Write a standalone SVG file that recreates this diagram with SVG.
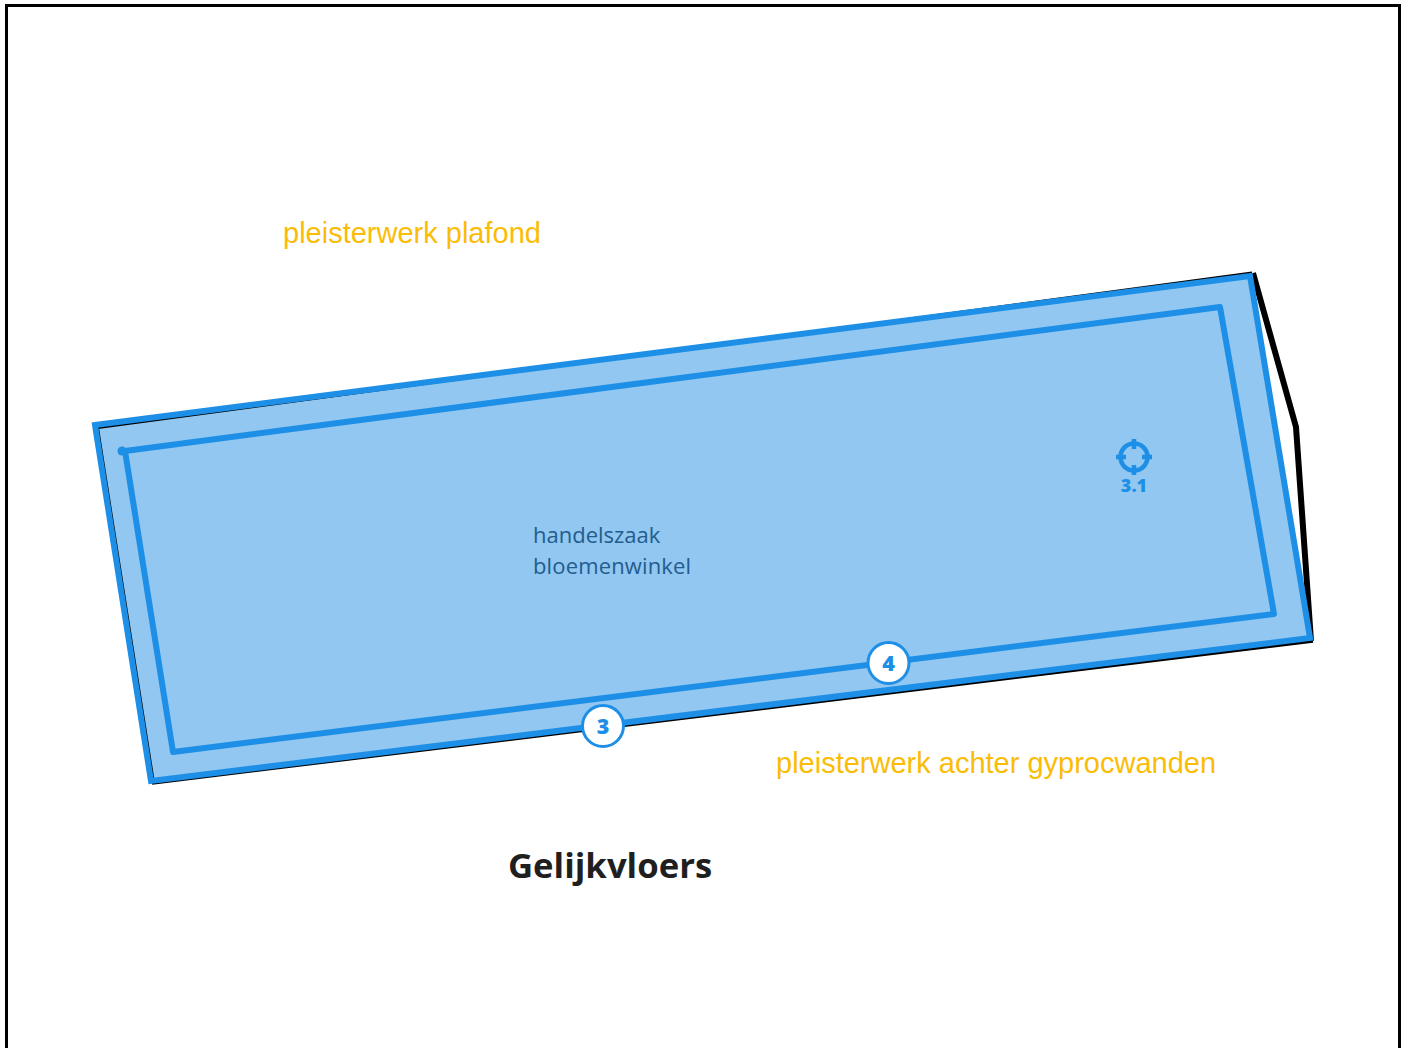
<svg xmlns="http://www.w3.org/2000/svg" width="1405" height="1048" viewBox="0 0 1405 1048">
<style>
.b{fill:none;stroke:#1e8fe6;stroke-linejoin:round;stroke-linecap:round}
.k{fill:none;stroke:#000;stroke-linejoin:miter}
.o{font-family:"Liberation Sans",Arial,sans-serif;font-size:29px;fill:#fbbc05}
.r{font-family:"Open Sans","Noto Sans",sans-serif;font-size:22px;fill:#235c8e}
.n{font-family:"Open Sans","Noto Sans",sans-serif;font-weight:800;fill:#1e8fe6;text-anchor:middle}
.c{fill:#fff;stroke:#1e8fe6;stroke-width:3}
</style>
<rect width="1405" height="1048" fill="#fff"/>
<path id="frame" d="M6.500 1048V5.500H1399.500V1048" fill="none" stroke="#000" stroke-width="3"/>
<g id="room-fill">
<polygon points="95,425 1250,276 1310,638 151,781" fill="#91c7f0"/>
</g>
<g id="outline">
<path class="k" stroke-width="6" d="M1253 273L1296 427L1311 641"/>
<path class="k" stroke-width="2" d="M98 428L1252 272.500M154 783L98 428"/>
<path class="k" stroke-width="3.500" d="M1313 641L700 716L152 783"/>
</g>
<g id="room">
<polygon points="95,425 1250,276 1310,638 151,781" fill="none" stroke="#1e8fe6" stroke-width="6" stroke-linejoin="miter"/>
<polygon class="b" stroke-width="6" points="125,451 1220,307 1274,614 173,752"/>
<circle cx="122" cy="451" r="4.500" fill="#1e8fe6"/>
</g>
<g id="marker-3-1">
<circle cx="1134" cy="457" r="13.500" fill="none" stroke="#1e8fe6" stroke-width="4.500"/>
<path d="M1134 439V449M1134 465V475M1116 457H1126M1142 457H1152" stroke="#1e8fe6" stroke-width="4.500" fill="none"/>
<text class="n" x="1134" y="492" font-size="18">3.1</text>
</g>
<g id="badge-3">
<circle class="c" cx="603" cy="726" r="20.500"/>
<text class="n" x="603" y="734" font-size="21.500">3</text>
</g>
<g id="badge-4">
<circle class="c" cx="888.500" cy="663" r="20.500"/>
<text class="n" x="888.500" y="671" font-size="21.500">4</text>
</g>
<g id="labels">
<text class="o" x="283" y="242.500">pleisterwerk plafond</text>
<text class="o" x="776" y="772.500">pleisterwerk achter gyprocwanden</text>
<text class="r" x="533" y="543">handelszaak</text>
<text class="r" x="533" y="574" textLength="158">bloemenwinkel</text>
<text x="508" y="877.500" font-family="'Open Sans','Noto Sans',sans-serif" font-weight="700" font-size="34.700" fill="#1f1f1f">Gelijkvloers</text>
</g>
</svg>
